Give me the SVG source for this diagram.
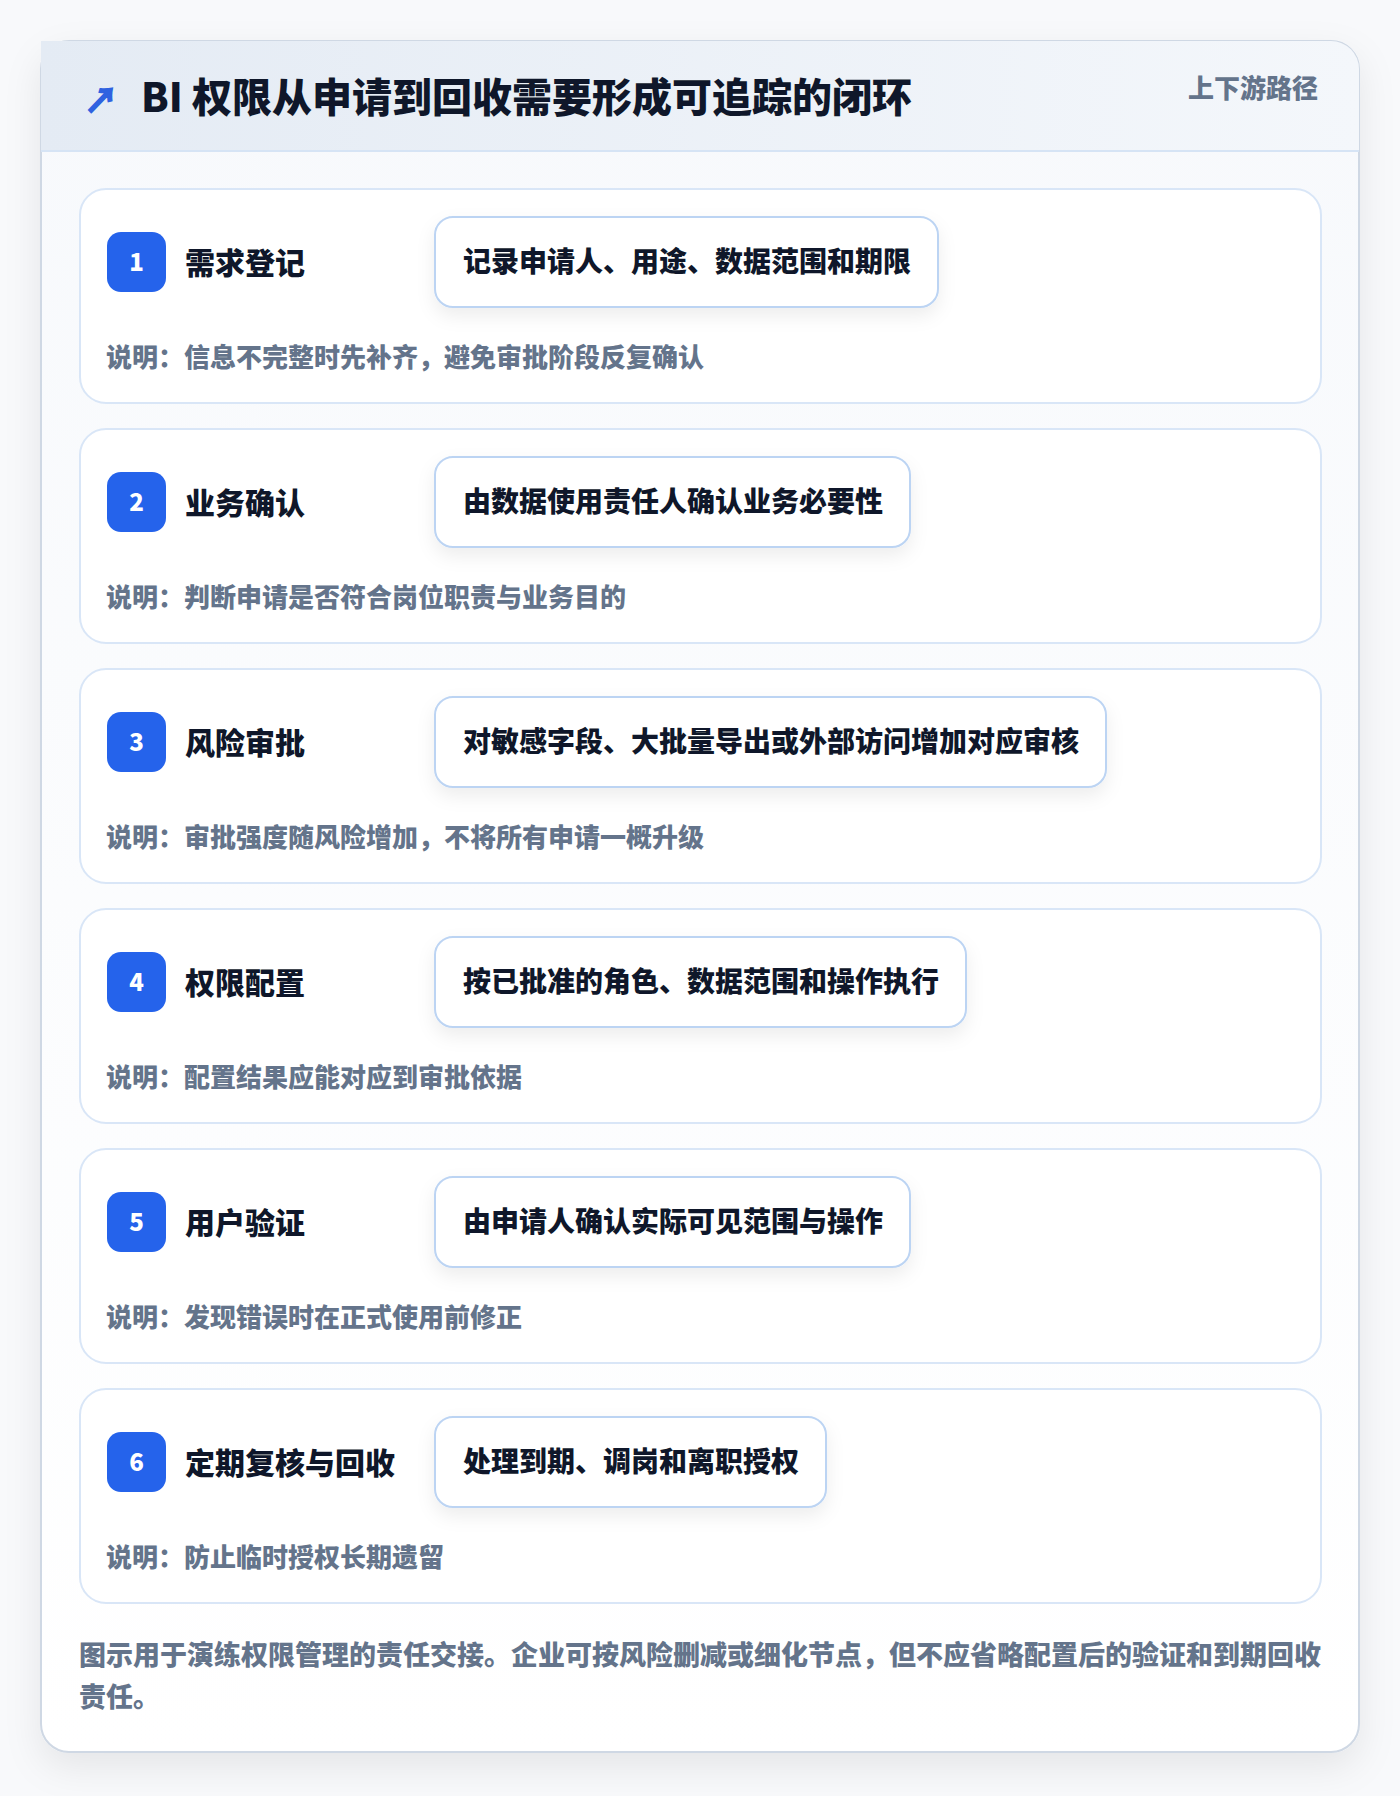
<svg xmlns="http://www.w3.org/2000/svg" width="1400" height="1796" viewBox="0 0 1400 1796">
<defs>
<linearGradient id="hdr" x1="0" y1="0" x2="1" y2="0">
<stop offset="0" stop-color="#e4ebf4"/>
<stop offset="1" stop-color="#f4f7fb"/>
</linearGradient>
<linearGradient id="body" x1="0" y1="0" x2="0" y2="1">
<stop offset="0" stop-color="#f7f9fc"/>
<stop offset="1" stop-color="#ffffff"/>
</linearGradient>
<filter id="cardShadow" x="-10%" y="-10%" width="120%" height="120%">
<feDropShadow dx="0" dy="14" stdDeviation="18" flood-color="#0f172a" flood-opacity="0.08"/>
</filter>
<filter id="pillShadow" x="-10%" y="-30%" width="120%" height="170%">
<feDropShadow dx="0" dy="8" stdDeviation="9" flood-color="#0f172a" flood-opacity="0.07"/>
</filter>
</defs>
<style>
text { font-family: "Noto Sans CJK SC", "Noto Sans", "Liberation Sans", sans-serif; font-weight: 700; }
.title { font-size: 40px; fill: #0f172a; font-weight: 900; }
.tag { font-size: 26px; fill: #64748b; font-weight: 800; }
.step { fill: #ffffff; stroke: #d9e6f7; stroke-width: 2; }
.badge { fill: #2563eb; }
.num { font-size: 24px; fill: #ffffff; font-weight: 900; text-anchor: middle; }
.stitle { font-size: 30px; fill: #0f172a; font-weight: 800; }
.pill { fill: #ffffff; stroke: #bcd4f3; stroke-width: 2; }
.ptext { font-size: 28px; fill: #0f172a; font-weight: 800; }
.desc { font-size: 26px; fill: #64748b; font-weight: 800; }
.foot { font-size: 27px; fill: #64748b; font-weight: 800; }
</style>
<rect x="0" y="0" width="1400" height="1796" fill="#f8f9fb"/>
<g id="frame">
<rect x="41" y="41" width="1318" height="1711" rx="28" fill="url(#body)" stroke="#cfd8e4" stroke-width="2" filter="url(#cardShadow)"/>
<path d="M41 41 H1331 A28 28 0 0 1 1359 69 V151 H41 Z" fill="url(#hdr)"/>
<line x1="41" y1="151" x2="1359" y2="151" stroke="#d6e4f5" stroke-width="2"/>
</g>
<g id="header">
<text x="84" y="113" font-size="34" fill="#2f62e0" stroke="#2f62e0" stroke-width="1.6" style="font-weight:700">↗</text>
<text class="title" x="141" y="112">BI 权限从申请到回收需要形成可追踪的闭环</text>
<text class="tag" x="1318" y="98" text-anchor="end">上下游路径</text>
</g>
<g id="connectors"></g>
<g id="step-1" transform="translate(0,189)">
<rect class="step" x="80" y="0" width="1241" height="214" rx="26"/>
<rect class="badge" x="107" y="43" width="59" height="60" rx="14"/>
<text class="num" x="136.5" y="82">1</text>
<text class="stitle" x="185" y="85">需求登记</text>
<rect class="pill" x="435" y="28" width="503" height="90" rx="18" filter="url(#pillShadow)"/>
<text class="ptext" x="463" y="83">记录申请人、用途、数据范围和期限</text>
<text class="desc" x="106" y="178">说明：信息不完整时先补齐，避免审批阶段反复确认</text>
</g>
<g id="step-2" transform="translate(0,429)">
<rect class="step" x="80" y="0" width="1241" height="214" rx="26"/>
<rect class="badge" x="107" y="43" width="59" height="60" rx="14"/>
<text class="num" x="136.5" y="82">2</text>
<text class="stitle" x="185" y="85">业务确认</text>
<rect class="pill" x="435" y="28" width="475" height="90" rx="18" filter="url(#pillShadow)"/>
<text class="ptext" x="463" y="83">由数据使用责任人确认业务必要性</text>
<text class="desc" x="106" y="178">说明：判断申请是否符合岗位职责与业务目的</text>
</g>
<g id="step-3" transform="translate(0,669)">
<rect class="step" x="80" y="0" width="1241" height="214" rx="26"/>
<rect class="badge" x="107" y="43" width="59" height="60" rx="14"/>
<text class="num" x="136.5" y="82">3</text>
<text class="stitle" x="185" y="85">风险审批</text>
<rect class="pill" x="435" y="28" width="671" height="90" rx="18" filter="url(#pillShadow)"/>
<text class="ptext" x="463" y="83">对敏感字段、大批量导出或外部访问增加对应审核</text>
<text class="desc" x="106" y="178">说明：审批强度随风险增加，不将所有申请一概升级</text>
</g>
<g id="step-4" transform="translate(0,909)">
<rect class="step" x="80" y="0" width="1241" height="214" rx="26"/>
<rect class="badge" x="107" y="43" width="59" height="60" rx="14"/>
<text class="num" x="136.5" y="82">4</text>
<text class="stitle" x="185" y="85">权限配置</text>
<rect class="pill" x="435" y="28" width="531" height="90" rx="18" filter="url(#pillShadow)"/>
<text class="ptext" x="463" y="83">按已批准的角色、数据范围和操作执行</text>
<text class="desc" x="106" y="178">说明：配置结果应能对应到审批依据</text>
</g>
<g id="step-5" transform="translate(0,1149)">
<rect class="step" x="80" y="0" width="1241" height="214" rx="26"/>
<rect class="badge" x="107" y="43" width="59" height="60" rx="14"/>
<text class="num" x="136.5" y="82">5</text>
<text class="stitle" x="185" y="85">用户验证</text>
<rect class="pill" x="435" y="28" width="475" height="90" rx="18" filter="url(#pillShadow)"/>
<text class="ptext" x="463" y="83">由申请人确认实际可见范围与操作</text>
<text class="desc" x="106" y="178">说明：发现错误时在正式使用前修正</text>
</g>
<g id="step-6" transform="translate(0,1389)">
<rect class="step" x="80" y="0" width="1241" height="214" rx="26"/>
<rect class="badge" x="107" y="43" width="59" height="60" rx="14"/>
<text class="num" x="136.5" y="82">6</text>
<text class="stitle" x="185" y="85">定期复核与回收</text>
<rect class="pill" x="435" y="28" width="391" height="90" rx="18" filter="url(#pillShadow)"/>
<text class="ptext" x="463" y="83">处理到期、调岗和离职授权</text>
<text class="desc" x="106" y="178">说明：防止临时授权长期遗留</text>
</g>
<g id="footer">
<text class="foot" x="79" y="1665">图示用于演练权限管理的责任交接。企业可按风险删减或细化节点，但不应省略配置后的验证和到期回收</text>
<text class="foot" x="79" y="1707">责任。</text>
</g>
</svg>
